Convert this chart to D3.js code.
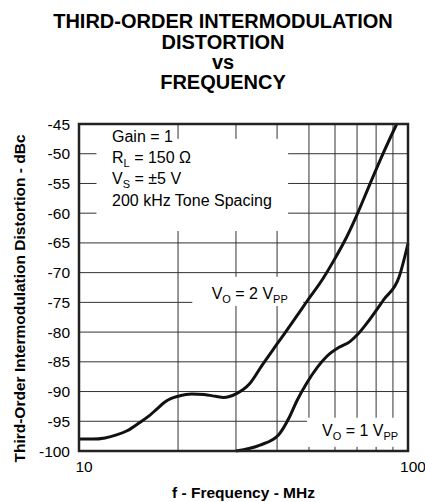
<!DOCTYPE html>
<html>
<head>
<meta charset="utf-8">
<script src="https://cdn.jsdelivr.net/npm/d3@7"></script>
<style>
  body { margin: 0; background: #fff; }
  text { font-family: "Liberation Sans", Arial, sans-serif; }
</style>
</head>
<body>
<div id="my_dataviz"></div>
<script>
// data
var titleLines = ["THIRD-ORDER INTERMODULATION", "DISTORTION", "vs", "FREQUENCY"];
var yTicks = [-45, -50, -55, -60, -65, -70, -75, -80, -85, -90, -95, -100];
var xGrid = [20, 30, 40, 50, 60, 70, 80, 90];
var xTickLabels = [10, 100];

var freq2Vpp = [10, 11, 12, 13, 14, 15.3, 16.4, 17.2, 18.2, 19, 20, 22, 24, 26, 27.5, 30, 33, 36, 40, 45, 49.2, 55.3, 60, 65.1, 69.8, 76.6, 84.1, 92.4];
var imd2Vpp  = [-98, -98, -97.8, -97.3, -96.6, -95.2, -94, -93, -91.8, -91.2, -90.8, -90.4, -90.5, -90.8, -91, -90.4, -88.7, -85.6, -82, -78, -74.9, -70.9, -67.6, -64, -60.4, -55.1, -49.9, -45];

var freq1Vpp = [30, 35.5, 40.4, 43.7, 46, 49.2, 56.6, 62, 66.6, 70, 75, 84.2, 94, 100];
var imd1Vpp  = [-100, -99, -97.3, -94.2, -91.5, -88.6, -84.1, -82.5, -81.6, -80.5, -78.5, -74.6, -70.7, -65.1];

// set the dimensions and margins of the graph
var margin = {top: 124, right: 17, bottom: 51, left: 79},
    width = 425 - margin.left - margin.right,
    height = 502 - margin.top - margin.bottom;

var root = d3.select("#my_dataviz")
  .append("svg")
    .attr("width", 425)
    .attr("height", 502);

var svg = root.append("g")
    .attr("transform", "translate(" + margin.left + "," + margin.top + ")");

var x = d3.scaleLog().domain([10, 100]).range([0, width]);
var y = d3.scaleLinear().domain([-100, -45]).range([height, 0]);

// title
root.append("g").selectAll("text")
  .data(titleLines)
  .enter().append("text")
    .attr("x", 223)
    .attr("y", function(d, i) { return [28, 49, 68.5, 89][i]; })
    .attr("text-anchor", "middle")
    .style("font-size", "20px")
    .style("font-weight", "bold")
    .text(function(d) { return d; });

// grid
svg.append("g").selectAll("line.h")
  .data(yTicks.slice(1, -1))
  .enter().append("line")
    .attr("x1", 0).attr("x2", width)
    .attr("y1", function(d) { return y(d); })
    .attr("y2", function(d) { return y(d); })
    .attr("stroke", "#333").attr("stroke-width", 1);

svg.append("g").selectAll("line.v")
  .data(xGrid)
  .enter().append("line")
    .attr("y1", 0).attr("y2", height)
    .attr("x1", function(d) { return x(d); })
    .attr("x2", function(d) { return x(d); })
    .attr("stroke", "#333").attr("stroke-width", 1);

// white boxes behind the labels (in data units)
var boxes = [
  {f0: 11.3, f1: 43.2, v0: -47.5, v1: -63.0},
  {f0: 22.1, f1: 48.0, v0: -70.7, v1: -75.6},
  {f0: 49.3, f1: 100,  v0: -94.4, v1: -99.3}
];
svg.append("g").selectAll("rect")
  .data(boxes)
  .enter().append("rect")
    .attr("x", function(d) { return x(d.f0); })
    .attr("y", function(d) { return y(d.v0); })
    .attr("width", function(d) { return x(d.f1) - x(d.f0); })
    .attr("height", function(d) { return y(d.v1) - y(d.v0); })
    .attr("fill", "#fff");

// curves
var line = d3.line()
  .x(function(d) { return x(d[0]); })
  .y(function(d) { return y(d[1]); })
  .curve(d3.curveMonotoneX);

[[freq2Vpp, imd2Vpp], [freq1Vpp, imd1Vpp]].forEach(function(s) {
  svg.append("path")
    .datum(d3.zip(s[0], s[1]))
    .attr("fill", "none")
    .attr("stroke", "#111")
    .attr("stroke-width", 3)
    .attr("stroke-linejoin", "round")
    .attr("d", line);
});

// frame
svg.append("rect")
  .attr("width", width).attr("height", height)
  .attr("fill", "none")
  .attr("stroke", "#222")
  .attr("stroke-width", 2.5);

// tick labels
svg.append("g").selectAll("text")
  .data(yTicks)
  .enter().append("text")
    .attr("x", -9)
    .attr("y", function(d) { return y(d) + 5.5; })
    .attr("text-anchor", "end")
    .style("font-size", "15.5px")
    .text(function(d) { return d; });

svg.append("g").selectAll("text")
  .data(xTickLabels)
  .enter().append("text")
    .attr("x", function(d) { return x(d) + 5; })
    .attr("y", height + 21)
    .attr("text-anchor", "middle")
    .style("font-size", "15.5px")
    .text(function(d) { return d; });

// conditions block
function subText(g, px, py, main, sub, rest) {
  var t = g.append("text")
    .attr("x", px).attr("y", py)
    .style("font-size", "16px");
  t.append("tspan").text(main);
  if (sub) {
    t.append("tspan").attr("dy", 4).style("font-size", "11px").text(sub);
    t.append("tspan").attr("dy", -4).text(rest);
  }
  return t;
}

var ann = svg.append("g");
subText(ann, x(12.6), y(-47.95), "Gain = 1");
subText(ann, x(12.6), y(-51.5), "R", "L", " = 150 \u03a9");
subText(ann, x(12.6), y(-55.15), "V", "S", " = \u00b15 V");
subText(ann, x(12.6), y(-58.85), "200 kHz Tone Spacing");

// series labels
var lab2 = subText(ann, x(25.3), y(-74.4), "V", "O", " = 2 V");
lab2.append("tspan").attr("dy", 4).style("font-size", "11px").text("PP");
var lab1 = subText(ann, x(54.8), y(-97.4), "V", "O", " = 1 V");
lab1.append("tspan").attr("dy", 4).style("font-size", "11px").text("PP");

// axis titles
function xAxisLabel(g) {
  g.append("text")
    .attr("x", width / 2)
    .attr("y", height + 47)
    .attr("text-anchor", "middle")
    .style("font-size", "15.5px")
    .style("font-weight", "bold")
    .text("f - Frequency - MHz");
}
function yAxisLabel(g) {
  g.append("text")
    .attr("transform", "rotate(-90)")
    .attr("x", -174.5)
    .attr("y", -54)
    .attr("text-anchor", "middle")
    .style("font-size", "15.5px")
    .style("font-weight", "bold")
    .text("Third-Order Intermodulation Distortion - dBc");
}
svg.append("g").call(xAxisLabel);
svg.append("g").call(yAxisLabel);
</script>
</body>
</html>
